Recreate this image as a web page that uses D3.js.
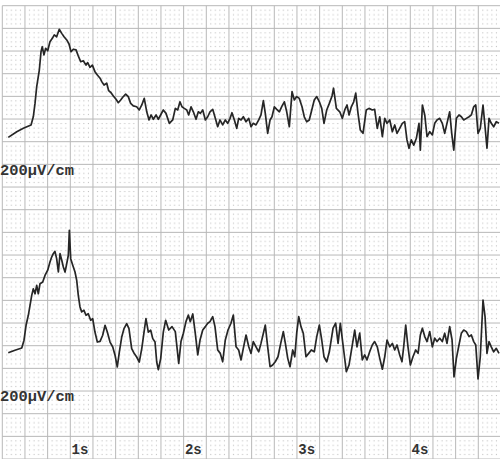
<!DOCTYPE html>
<html><head><meta charset="utf-8">
<script src="https://cdn.jsdelivr.net/npm/d3@7"></script>
<style>body{margin:0;background:#fff}svg{display:block}</style>
</head><body>
<svg id="c" width="500" height="459"></svg>
<script>
// ---- data ----
const tickSeconds = [1, 2, 3, 4];
const tickLabels = ["1s", "2s", "3s", "4s"];
const scaleLabel = "200\u00b5V/cm";

const topTime = [
0.367,0.442,0.500,0.568,0.588,0.603,0.618,0.641,0.656,0.667,
0.682,0.697,0.715,0.735,0.756,0.773,0.794,0.817,0.839,0.859,
0.883,0.903,0.921,0.941,0.965,0.985,1.006,1.029,1.053,1.068,
1.088,1.109,1.132,1.153,1.177,1.192,1.212,1.236,1.253,1.274,
1.294,1.318,1.338,1.359,1.377,1.403,1.426,1.447,1.470,1.500,
1.523,1.545,1.567,1.589,1.609,1.627,1.647,1.671,1.691,1.715,1.735,
1.759,1.788,1.818,1.841,1.862,1.882,1.900,1.920,1.942,1.959,
1.980,2.000,2.024,2.044,2.062,2.083,2.106,2.127,2.147,2.171,
2.194,2.215,2.235,2.259,2.282,2.303,2.324,2.341,2.362,2.383,
2.400,2.421,2.441,2.465,2.489,2.509,2.529,2.553,2.577,2.597,
2.618,2.635,2.656,2.677,2.694,2.715,2.736,2.759,2.782,2.803,
2.824,2.847,2.871,2.891,2.912,2.935,2.959,2.979,3.000,3.023,
3.045,3.067,3.089,3.112,3.133,3.153,3.177,3.200,3.224,3.237,
3.262,3.292,3.315,3.336,3.356,3.374,3.394,3.415,3.433,3.453,
3.473,3.497,3.526,3.550,3.579,3.600,3.623,3.645,3.668,3.689,
3.709,3.733,3.756,3.777,3.797,3.821,3.844,3.865,3.885,3.903,
3.923,3.945,3.968,3.991,4.003,4.021,4.042,4.062,4.086,4.109,
4.130,4.150,4.174,4.197,4.218,4.238,4.262,4.280,4.298,4.321,
4.344,4.365,4.386,4.409,4.433,4.453,4.474,4.492,4.512,4.532,
4.556,4.574,4.591,4.609,4.629,4.650,4.673,4.697];
const topAmp = [
19,44,59,74,110,169,243,316,397,419,
383,412,401,441,456,471,463,496,478,463,
449,431,397,408,405,378,353,357,338,349,
328,338,309,294,280,265,250,258,225,216,
202,187,172,184,196,210,199,169,158,154,
140,162,191,132,96,118,99,118,99,121,140,
125,81,96,147,140,176,154,147,140,118,
154,132,99,132,125,140,96,110,132,143,
103,66,96,74,96,81,103,128,96,59,
103,96,110,88,103,66,81,74,96,118,
181,125,37,96,110,154,143,132,157,176,
132,66,221,184,199,191,154,110,88,96,
140,184,199,176,147,81,140,169,202,236,
147,132,103,140,162,118,154,176,214,125,
52,37,140,147,140,143,59,110,22,103,
81,96,44,74,37,59,81,88,8,-29,
8,-15,15,81,-37,162,118,22,44,30,
81,96,103,81,37,81,132,37,-37,103,
118,110,96,103,110,118,154,162,37,59,
162,66,-29,103,81,66,88,81];

const botTime = [
0.367,0.426,0.486,0.506,0.524,0.544,0.559,0.574,0.588,0.603,
0.618,0.632,0.647,0.671,0.691,0.715,0.735,0.750,0.764,0.779,
0.794,0.809,0.824,0.839,0.853,0.868,0.883,0.897,0.906,0.918,
0.936,0.956,0.971,0.985,1.000,1.015,1.035,1.053,1.073,1.094,
1.112,1.132,1.153,1.177,1.200,1.221,1.241,1.265,1.289,1.309,
1.329,1.347,1.368,1.388,1.412,1.432,1.456,1.479,1.500,1.523,
1.545,1.565,1.582,1.603,1.624,1.642,1.662,1.677,1.691,1.712,
1.735,1.756,1.783,1.812,1.841,1.871,1.891,1.912,1.935,1.956,
1.973,1.995,2.017,2.039,2.059,2.083,2.106,2.127,2.147,2.171,
2.191,2.215,2.238,2.259,2.282,2.306,2.332,2.353,2.377,2.400,
2.421,2.441,2.465,2.489,2.509,2.529,2.553,2.577,2.597,2.618,
2.635,2.656,2.677,2.700,2.723,2.747,2.771,2.794,2.812,2.833,
2.853,2.877,2.895,2.912,2.930,2.950,2.970,2.994,3.018,3.041,
3.067,3.089,3.112,3.133,3.153,3.177,3.200,3.233,3.256,3.277,
3.297,3.321,3.350,3.374,3.400,3.424,3.444,3.468,3.491,3.512,
3.532,3.556,3.579,3.600,3.623,3.645,3.668,3.689,3.709,3.733,
3.756,3.777,3.797,3.821,3.841,3.856,3.874,3.894,3.915,3.938,
3.962,3.983,4.003,4.021,4.042,4.062,4.086,4.109,4.130,4.150,
4.174,4.197,4.218,4.238,4.262,4.283,4.300,4.321,4.344,4.365,
4.386,4.409,4.433,4.453,4.474,4.492,4.512,4.532,4.556,4.574,
4.591,4.609,4.629,4.650,4.673,4.697];
const botAmp = [
19,30,40,74,140,184,228,272,301,279,
316,279,323,331,360,383,419,441,456,466,
434,375,456,427,397,375,412,449,559,434,
405,375,338,272,221,199,206,184,191,162,
169,110,66,69,96,140,110,66,44,8,
-44,22,88,125,147,125,37,15,0,-22,
37,110,169,110,118,81,66,-22,-56,-7,
110,162,119,134,112,-28,68,105,156,185,
156,190,105,9,75,119,134,149,156,178,
134,31,16,-21,75,119,149,185,45,31,
-13,38,97,45,16,68,45,23,60,105,
141,45,-43,-35,-21,1,60,112,60,-6,
-43,31,1,105,178,134,105,1,16,31,
23,90,141,75,1,-21,23,127,149,60,
149,53,-65,-35,45,119,45,105,-13,9,
-13,23,53,68,45,-6,-54,1,75,45,
60,31,53,9,-21,45,141,45,-35,1,
31,16,97,127,90,68,112,45,83,68,
83,68,105,60,134,75,-88,-6,53,105,
119,112,90,97,68,53,-97,1,251,178,
16,68,45,23,38,16];

// ---- layout ----
const W = 500, H = 459;
const svg = d3.select("#c");
const x = d3.scaleLinear().domain([0.2941, 4.7059]).range([0, W]);
const yTop = d3.scaleLinear().domain([-100, 500]).range([164.37, 28.37]);
const yBot = d3.scaleLinear().domain([-100, 500]).range([379.67, 243.67]);

const step = x(0.2) - x(0);   // one major division (0.2 s)
const gx0 = 2.3, gy0 = 5.7;   // paper grid origin

svg.append("rect").attr("width", W).attr("height", H).attr("fill", "#fff");

// dot pattern
const defs = svg.append("defs");
const pat = defs.append("pattern").attr("id", "dots")
  .attr("patternUnits", "userSpaceOnUse")
  .attr("x", gx0).attr("y", gy0).attr("width", step).attr("height", step);
for (let i = 1; i <= 4; i++) for (let j = 1; j <= 4; j++) {
  pat.append("rect").attr("x", i * step / 5 - 0.5).attr("y", j * step / 5 - 0.5)
    .attr("width", 1).attr("height", 1).attr("fill", "#b5b5b5");
}
svg.append("rect").attr("x", gx0).attr("y", gy0).attr("width", W - gx0).attr("height", H - gy0)
  .attr("fill", "url(#dots)");

const vLines = d3.range(gx0, W + 1, step);
const hLines = d3.range(gy0, H + 1, step);
const grid = svg.append("g").attr("stroke", "#b8b8b8").attr("stroke-width", 1);
grid.selectAll(".v").data(vLines).join("line").attr("class", "v")
  .attr("x1", d => d).attr("x2", d => d).attr("y1", gy0).attr("y2", H);
grid.selectAll(".h").data(hLines).join("line").attr("class", "h")
  .attr("x1", gx0).attr("x2", W).attr("y1", d => d).attr("y2", d => d);

// traces
const topData = topTime.map((t, i) => [t, topAmp[i]]);
const botData = botTime.map((t, i) => [t, botAmp[i]]);
const lineTop = d3.line().x(d => x(d[0])).y(d => yTop(d[1]));
const lineBot = d3.line().x(d => x(d[0])).y(d => yBot(d[1]));
svg.append("path").attr("d", lineTop(topData)).attr("fill", "none")
  .attr("stroke", "#262626").attr("stroke-width", 1.7).attr("stroke-linejoin", "round");
svg.append("path").attr("d", lineBot(botData)).attr("fill", "none")
  .attr("stroke", "#262626").attr("stroke-width", 1.7).attr("stroke-linejoin", "round");

// scale labels
const font = "'Liberation Mono', 'DejaVu Sans Mono', monospace";
[175, 401].forEach(yy => {
  svg.append("text").attr("x", 0).attr("y", yy).text(scaleLabel)
    .attr("font-family", font).attr("font-weight", "bold").attr("font-size", 14)
    .attr("textLength", 74).attr("lengthAdjust", "spacingAndGlyphs")
    .attr("fill", "#333");
});

// time labels
svg.append("g").selectAll("text").data(tickSeconds).join("text")
  .attr("x", d => x(d)).attr("y", 454).attr("text-anchor", "middle")
  .text((d, i) => tickLabels[i])
  .attr("font-family", font).attr("font-weight", "bold").attr("font-size", 14)
  .attr("fill", "#333");
</script>
</body></html>
